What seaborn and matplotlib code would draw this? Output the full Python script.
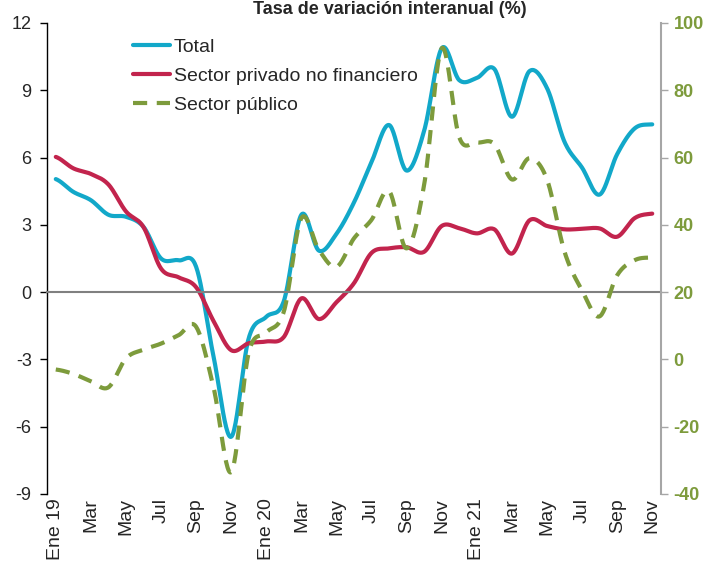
import numpy as np
import pandas as pd
import matplotlib
matplotlib.use("Agg")
import matplotlib.pyplot as plt
import seaborn as sns

sns.set_style("white")
plt.rcParams['font.family'] = ['Liberation Sans', 'DejaVu Sans']
plt.rcParams['axes.unicode_minus'] = False

# tasa de variación interanual, mensual ene-19 a nov-21
meses = ["Ene 19", "Feb", "Mar", "Abr", "May", "Jun", "Jul", "Ago", "Sep", "Oct", "Nov", "Dic",
         "Ene 20", "Feb", "Mar", "Abr", "May", "Jun", "Jul", "Ago", "Sep", "Oct", "Nov", "Dic",
         "Ene 21", "Feb", "Mar", "Abr", "May", "Jun", "Jul", "Ago", "Sep", "Oct", "Nov"]
total = [5.04, 4.47, 4.10, 3.45, 3.36, 2.91, 1.50, 1.42, 1.13, -2.90, -6.45, -2.05,
         -1.10, -0.40, 3.45, 1.85, 2.60, 4.00, 5.80, 7.45, 5.42, 7.20, 10.87, 9.45,
         9.55, 9.95, 7.82, 9.85, 9.10, 6.70, 5.55, 4.35, 6.15, 7.30, 7.48]
privado = [6.03, 5.52, 5.27, 4.80, 3.60, 2.90, 1.05, 0.66, 0.22, -1.30, -2.59, -2.28,
           -2.20, -2.00, -0.28, -1.20, -0.45, 0.40, 1.75, 1.95, 2.00, 1.80, 2.95, 2.85,
           2.62, 2.80, 1.72, 3.20, 2.95, 2.80, 2.82, 2.84, 2.47, 3.30, 3.50]
publico = [-3.0, -4.3, -6.5, -8.3, 0.3, 2.9, 4.7, 7.2, 9.7, -8.5, -33.5, 2.0,
           8.0, 14.2, 42.0, 32.5, 27.5, 36.0, 41.5, 50.0, 33.0, 52.0, 92.5, 66.0,
           64.5, 64.0, 53.5, 59.8, 53.5, 32.0, 20.5, 12.8, 25.0, 29.5, 30.3]

c_total = "#12A8C9"
c_priv = "#C2244D"
c_pub = "#7D9B3C"


def suavizar(y, n=24):
    # curva suavizada tipo Excel (Catmull-Rom) solo para el trazo
    y = np.asarray(y, float)
    p = np.concatenate([[y[0]], y, [y[-1]]])
    t = np.linspace(0, 1, n, endpoint=False)
    xs, ys = [], []
    for i in range(len(y) - 1):
        p0, p1, p2, p3 = p[i], p[i + 1], p[i + 2], p[i + 3]
        ys.append(0.5 * (2 * p1 + (-p0 + p2) * t + (2 * p0 - 5 * p1 + 4 * p2 - p3) * t ** 2
                         + (-p0 + 3 * p1 - 3 * p2 + p3) * t ** 3))
        xs.append(i + t)
    xs.append([len(y) - 1])
    ys.append([y[-1]])
    return pd.DataFrame({"x": np.concatenate(xs), "y": np.concatenate(ys)})


fig = plt.figure(figsize=(7.09, 5.65), dpi=100)
ax = fig.add_axes([0.0663, 0.1257, 0.866, 0.8336])
ax2 = ax.twinx()

d = suavizar(total)
sns.lineplot(data=d, x="x", y="y", ax=ax, color=c_total, lw=3, sort=False, estimator=None, label="Total")
d = suavizar(privado)
sns.lineplot(data=d, x="x", y="y", ax=ax, color=c_priv, lw=3, sort=False, estimator=None,
             label="Sector privado no financiero")
d = suavizar(publico)
sns.lineplot(data=d, x="x", y="y", ax=ax2, color=c_pub, lw=3, sort=False, estimator=None,
             label="Sector público", linestyle=(0, (3.4, 2.3)))

ax.set_xlim(-0.5, len(meses) - 0.5)
ax.set_ylim(-9, 12)
ax2.set_ylim(-40, 100)
ax.set_yticks(np.arange(-9, 13, 3))
ax2.set_yticks(np.arange(-40, 101, 20))
ax.set_xlabel("")
ax.set_ylabel("")
ax2.set_ylabel("")

# eje x en el cero con marcas entre categorías
for s in ["top", "right"]:
    ax.spines[s].set_visible(False)
ax.spines["bottom"].set_position(("data", 0))
ax.spines["bottom"].set_color("#808080")
ax.spines["bottom"].set_linewidth(1.5)
ax.spines["left"].set_color("black")
ax.spines["left"].set_linewidth(1)
ax.set_xticks(np.arange(-0.5, len(meses), 1))
ax.tick_params(axis="x", direction="out", length=5, width=1, color="#808080", labelbottom=False)
ax.tick_params(axis="y", direction="out", length=5, width=1, color="black", labelsize=13, pad=6)

for s in ["top", "left", "bottom"]:
    ax2.spines[s].set_visible(False)
ax2.spines["right"].set_color("#A6A6A6")
ax2.spines["right"].set_linewidth(1.5)
ax2.tick_params(axis="y", direction="out", length=5, width=1, color="#A6A6A6",
                labelsize=13, labelcolor=c_pub, pad=4)
for lb in ax2.get_yticklabels():
    lb.set_fontweight("bold")

sec = ax.secondary_xaxis("bottom")
sec.set_xticks(np.arange(0, len(meses), 2))
sec.set_xticklabels(meses[::2], rotation=90, fontsize=14)
sec.tick_params(length=0, pad=3)
sec.spines["bottom"].set_visible(False)

h1, l1 = ax.get_legend_handles_labels()
h2, l2 = ax2.get_legend_handles_labels()
if ax2.get_legend():
    ax2.get_legend().remove()
ax.legend(h1 + h2, l1 + l2, loc="upper left", bbox_to_anchor=(0.140, 0.968), frameon=False,
          fontsize=14, handlelength=1.9, handletextpad=0.2, labelspacing=0.6,
          borderpad=0, borderaxespad=0)

fig.text(0.55, 0.998, "Tasa de variación interanual (%)", ha="center", va="top",
         fontsize=13, fontweight="bold")

fig.savefig("out.png", dpi=100)
